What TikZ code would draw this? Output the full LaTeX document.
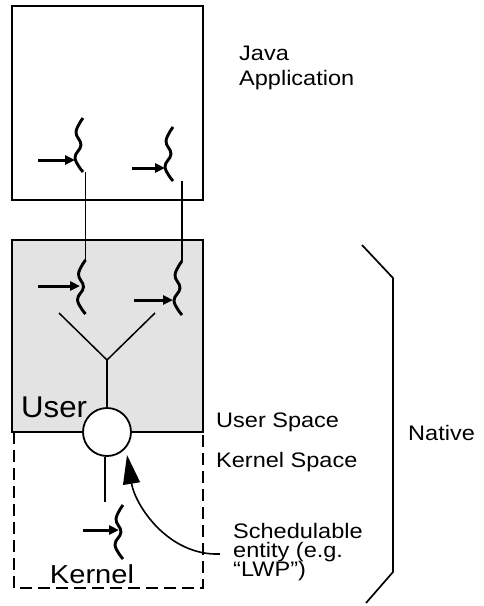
\documentclass[tikz,border=0pt]{standalone}
\usepackage{fontspec}
\setmainfont{Liberation Sans}[FakeStretch=1.12]
\usetikzlibrary{arrows.meta}
\definecolor{usergray}{gray}{0.89}
\begin{document}
\begin{tikzpicture}[x=1pt,y=-1pt,
  box/.style={draw, line width=1.8pt, inner sep=0pt, outer sep=0pt},
  thinline/.style={line width=1.5pt},
  thr/.style={line width=2.9pt},
  ptr/.style={line width=3pt, -{Triangle[length=10pt,width=9pt]}},
  lbl/.style={anchor=base west, inner sep=0pt, font=\fontsize{21}{25}\selectfont},
  thread/.pic={
    \draw[thr] plot[smooth, tension=0.7] coordinates {(0,0) (-7,14) (-2,27) (-8,40) (0,54)};
    \coordinate (-top) at (0,0);
    \coordinate (-bot) at (0,54);
  }]
\useasboundingbox (0,0) rectangle (484,606);

% boxes
\node[box, minimum width=191pt, minimum height=194pt] (java) at (107.5,103) {};
\node[box, fill=usergray, minimum width=191pt, minimum height=192pt] (user) at (107.5,336) {};
\draw[line width=1.6pt, dash pattern=on 12pt off 6pt] (14,432) -- (14,588) -- (203,588) -- (203,432);

% threads
\pic (t1) at (83,118) {thread};
\pic (t2) at (173,127) {thread};
\pic (t3) at (85.5,260) {thread};
\pic (t4) at (182,261) {thread};
\pic (tk) at (123,505) {thread};

% arrows into threads
\coordinate (a1) at (38,160);  \coordinate (a1e) at (75,160);
\coordinate (a2) at (132,168); \coordinate (a2e) at (165,168);
\coordinate (a3) at (38,286);  \coordinate (a3e) at (80,286);
\coordinate (a4) at (134,300); \coordinate (a4e) at (173,300);
\coordinate (ak) at (83,530);  \coordinate (ake) at (119,530);
\draw[ptr] (a1) -- (a1e);
\draw[ptr] (a2) -- (a2e);
\draw[ptr] (a3) -- (a3e);
\draw[ptr] (a4) -- (a4e);
\draw[ptr] (ak) -- (ake);

% connectors between java threads and native threads
\draw[thinline] (t1-bot -| t3-top) -- (t3-top);
\draw[thinline] (t2-bot -| t4-top) -- (t4-top);

% Y multiplexing
\node[circle, draw, fill=white, line width=1.8pt, minimum size=48pt, inner sep=0pt] (lwp) at (107,432) {};
\coordinate (yl) at (59,313);
\coordinate (yr) at (155,313);
\coordinate (yj) at (107,360);
\draw[thinline] (yl) -- (yj) -- (yr);
\draw[thinline] (yj) -- (lwp.north);
\coordinate (kl) at (105,502);
\draw[line width=1.7pt] (lwp.south -| kl) -- (kl);

% bracket
\coordinate (b1) at (362,245);
\coordinate (b2) at (393,278);
\coordinate (b3) at (393,572);
\coordinate (b4) at (366,603);
\draw[line width=1.7pt] (b1) -- (b2) -- (b3) -- (b4);

% schedulable entity pointer
\coordinate (sp) at (220,554);
\coordinate (tip) at (127,455);
\draw[line width=1.6pt, -{Triangle[length=29pt,width=17pt]}] (sp) .. controls (168,556) and (135,505) .. (tip);

% labels
\node[lbl] (javaA) at (239,60) {Java};
\node[lbl] (javaB) at (239,85) {Application};
\node[lbl] (us) at (216,427) {User Space};
\node[lbl] (ks) at (216,467) {Kernel Space};
\node[lbl] (s1) at (233,538) {Schedulable};
\node[lbl] (s2) at (233,557) {entity (e.g.};
\node[lbl] (s3) at (233,576) {“LWP”)};
\node[lbl] (nat) at (408,440) {Native};
\node[anchor=base west, inner sep=0pt, font=\fontsize{30}{34}\selectfont\addfontfeature{FakeStretch=1.04}] (userlbl) at (21,417) {User};
\node[anchor=base, inner sep=0pt, font=\fontsize{26}{30}\selectfont] (kern) at (92,583) {Kernel};
\end{tikzpicture}
\end{document}
